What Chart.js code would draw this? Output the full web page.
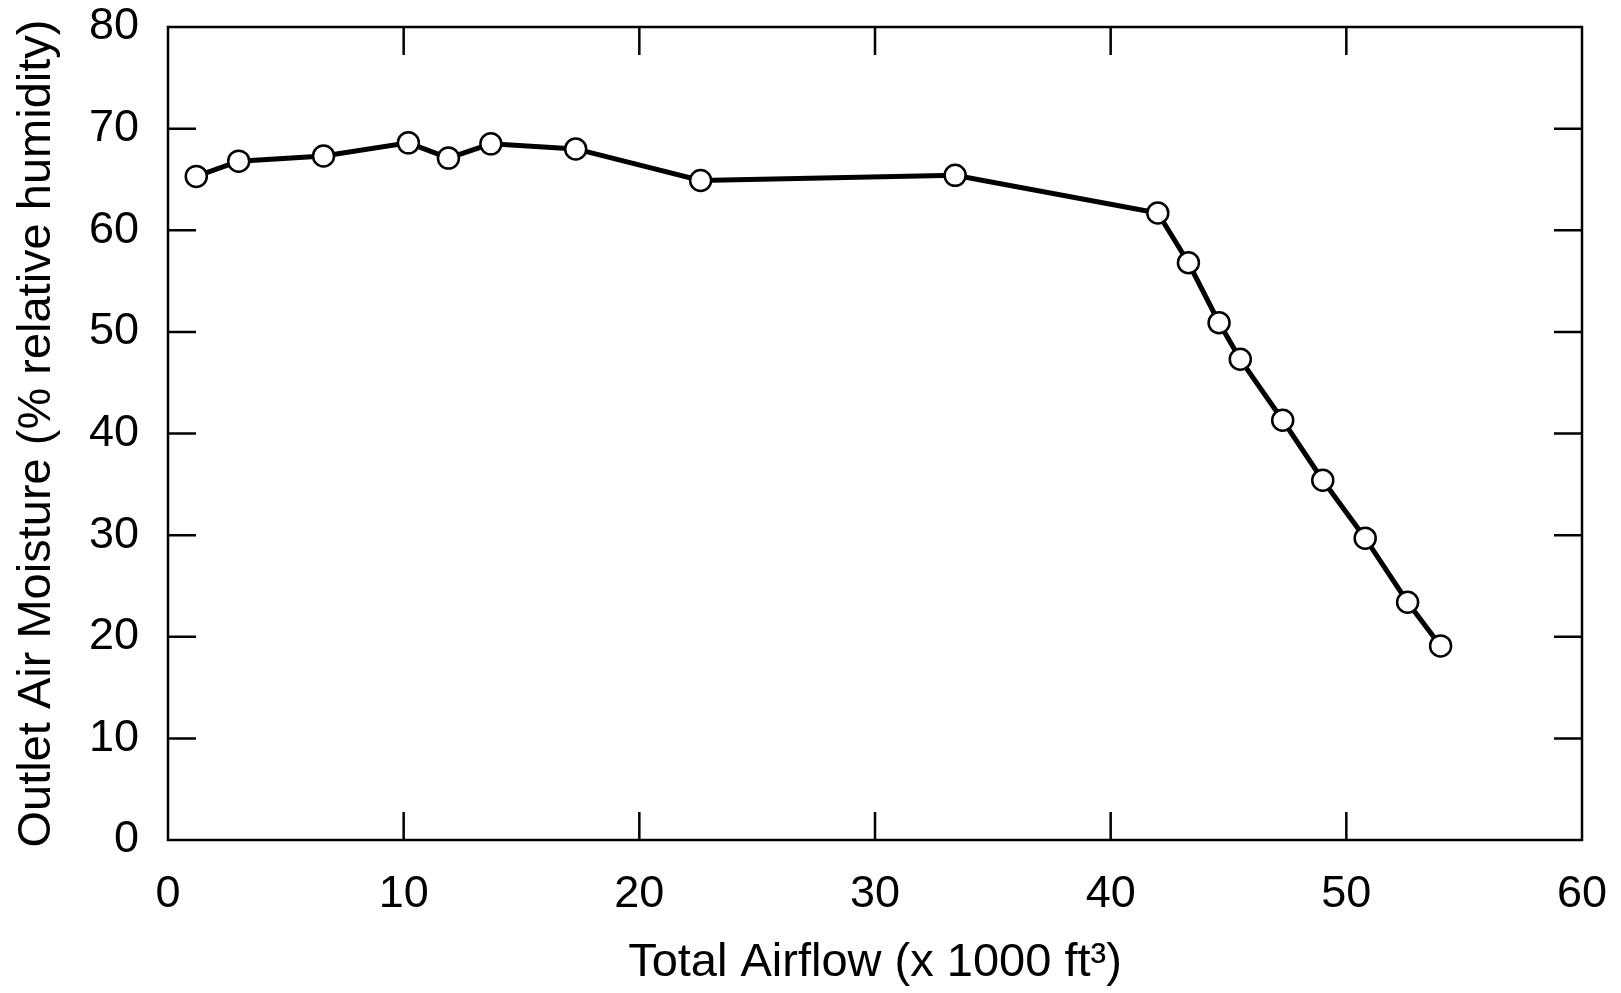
<!DOCTYPE html>
<html lang="en">
<head>
    <meta charset="UTF-8">
    <title>Outlet Air Moisture vs Total Airflow</title>
    <script src="https://cdn.jsdelivr.net/npm/chart.js"></script>
    <style>
        body {
            margin: 0;
            padding: 0;
            background-color: white;
        }
        .chart-box {
            width: 1621px;
            height: 993px;
        }
    </style>
</head>
<body>
    <div class="chart-box">
        <canvas id="moistureChart"></canvas>
    </div>

    <script>
        // values
        const airflow = [1.2, 3.0, 6.6, 10.2, 11.9, 13.7, 17.3, 22.6, 33.4, 42.0, 43.3, 44.6, 45.5, 47.3, 49.0, 50.8, 52.6, 54.0];
        const humidity = [65.3, 66.8, 67.3, 68.6, 67.1, 68.5, 68.0, 64.9, 65.4, 61.7, 56.8, 50.9, 47.3, 41.3, 35.4, 29.7, 23.4, 19.1];

        const xTicks = [0, 10, 20, 30, 40, 50, 60];
        const yTicks = [0, 10, 20, 30, 40, 50, 60, 70, 80];

        const xTitle = 'Total Airflow (x 1000 ft\u00B3)';
        const yTitle = 'Outlet Air Moisture (% relative humidity)';

        const points = airflow.map((x, i) => ({ x: x, y: humidity[i] }));

        // frame plus inward ticks on all four sides
        const frameTicks = {
            id: 'frameTicks',
            afterDraw(chart) {
                const ctx = chart.ctx;
                const area = chart.chartArea;
                const xs = chart.scales.x;
                const ys = chart.scales.y;
                const len = 28;
                ctx.save();
                ctx.strokeStyle = '#000';
                ctx.lineWidth = 2.5;
                ctx.strokeRect(area.left, area.top, area.right - area.left, area.bottom - area.top);
                ctx.beginPath();
                xTicks.slice(1, -1).forEach(v => {
                    const px = xs.getPixelForValue(v);
                    ctx.moveTo(px, area.bottom);
                    ctx.lineTo(px, area.bottom - len);
                    ctx.moveTo(px, area.top);
                    ctx.lineTo(px, area.top + len);
                });
                yTicks.slice(1, -1).forEach(v => {
                    const py = ys.getPixelForValue(v);
                    ctx.moveTo(area.left, py);
                    ctx.lineTo(area.left + len, py);
                    ctx.moveTo(area.right, py);
                    ctx.lineTo(area.right - len, py);
                });
                ctx.stroke();
                ctx.restore();
            }
        };

        const tickFont = { family: '"Liberation Sans", Arial, sans-serif', size: 45 };
        const titleFont = { family: '"Liberation Sans", Arial, sans-serif', size: 47 };

        const ctx = document.getElementById('moistureChart').getContext('2d');
        const moistureChart = new Chart(ctx, {
            type: 'scatter',
            data: {
                datasets: [{
                    data: points,
                    showLine: true,
                    borderColor: '#000',
                    borderWidth: 5,
                    pointRadius: 10.5,
                    pointBorderWidth: 2.5,
                    pointBackgroundColor: '#fff',
                    pointBorderColor: '#000'
                }]
            },
            options: {
                responsive: true,
                maintainAspectRatio: false,
                animation: false,
                layout: {
                    padding: { top: 27, right: 39, bottom: 0, left: 0 }
                },
                plugins: {
                    legend: { display: false },
                    tooltip: { enabled: false }
                },
                scales: {
                    x: {
                        type: 'linear',
                        min: 0,
                        max: 60,
                        afterBuildTicks: scale => { scale.ticks = xTicks.map(v => ({ value: v })); },
                        afterFit: scale => {
                            scale.height = 153;
                            scale.paddingLeft = 0;
                            scale.paddingRight = 0;
                        },
                        grid: { display: false },
                        border: { display: false },
                        ticks: { color: '#000', font: tickFont, padding: 20, maxRotation: 0 },
                        title: {
                            display: true,
                            text: xTitle,
                            color: '#000',
                            font: titleFont,
                            padding: { top: 0, bottom: 2 }
                        }
                    },
                    y: {
                        min: 0,
                        max: 80,
                        afterBuildTicks: scale => { scale.ticks = yTicks.map(v => ({ value: v })); },
                        afterFit: scale => {
                            scale.width = 168;
                            scale.paddingTop = 0;
                            scale.paddingBottom = 0;
                        },
                        grid: { display: false },
                        border: { display: false },
                        ticks: { color: '#000', font: tickFont, padding: 21 },
                        title: {
                            display: true,
                            text: yTitle,
                            color: '#000',
                            font: titleFont,
                            padding: { top: 9, bottom: 0 }
                        }
                    }
                }
            },
            plugins: [frameTicks]
        });
    </script>
</body>
</html>
